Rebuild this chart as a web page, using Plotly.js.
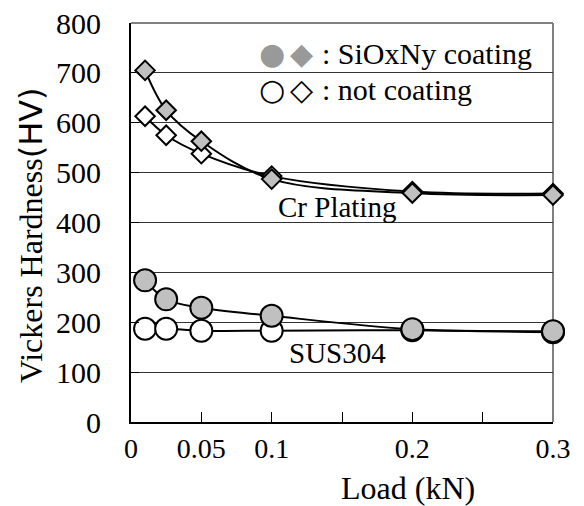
<!DOCTYPE html>
<html>
<head>
<meta charset="utf-8">
<script src="https://cdn.plot.ly/plotly-3.0.1.min.js"></script>
<style>html,body{margin:0;padding:0;background:#fff}#chart{width:584px;height:506px}</style>
</head>
<body>
<div id="chart"></div>
<script>
// Data
const loads = [0.01, 0.025, 0.05, 0.1, 0.2, 0.3];
const crCoated = [705, 625, 563, 487, 459, 455];
const crUncoated = [613, 575, 538, 493, 462, 458];
const susCoated = [284, 246, 229, 213, 186, 182];
const susUncoated = [187, 187, 183, 183, 184, 180];
const xTickVals = [0, 0.05, 0.1, 0.15, 0.2, 0.25, 0.3];
const xTickText = ['0', '0.05', '0.1', '', '0.2', '', '0.3'];
const yTickVals = [0, 100, 200, 300, 400, 500, 600, 700, 800];

const serif = 'Liberation Serif';

function tr(y, symbol, fill, size) {
  return {
    x: loads, y: y, type: 'scatter', mode: 'lines+markers', cliponaxis: false,
    line: {color: '#000', width: 2, shape: 'spline', smoothing: 1},
    marker: {symbol: symbol, color: fill, size: size, line: {color: '#000', width: 2}},
    showlegend: false, hoverinfo: 'skip'
  };
}

const data = [
  tr(crUncoated, 'diamond', '#ffffff', 15),
  tr(crCoated, 'diamond', '#c0c0c0', 15),
  tr(susUncoated, 'circle', '#ffffff', 22),
  tr(susCoated, 'circle', '#c0c0c0', 22)
];

const layout = {
  width: 584, height: 506,
  margin: {l: 131, r: 31, t: 23, b: 84},
  paper_bgcolor: '#fff', plot_bgcolor: '#fff',
  font: {family: serif, color: '#000', size: 28},
  xaxis: {
    range: [0, 0.3], tickvals: xTickVals, ticktext: xTickText,
    ticks: 'inside', ticklen: 10, tickwidth: 1, tickcolor: '#000',
    showgrid: false, zeroline: false, showline: true, linecolor: '#000', linewidth: 2,
    tickfont: {family: serif, size: 28, color: '#000'}, ticklabelstandoff: 0
  },
  yaxis: {
    range: [0, 800], tickvals: yTickVals,
    ticks: 'inside', ticklen: 8, tickwidth: 1, tickcolor: '#000',
    showgrid: true, gridcolor: '#333', gridwidth: 1,
    zeroline: false, showline: true, linecolor: '#000', linewidth: 2,
    tickfont: {family: serif, size: 30, color: '#000'}, ticklabelstandoff: 22
  },
  shapes: [
    {type: 'line', xref: 'paper', yref: 'paper', x0: 0, x1: 1, y0: 1, y1: 1, layer: 'below', line: {color: '#808080', width: 2}},
    {type: 'line', xref: 'paper', yref: 'paper', x0: 1, x1: 1, y0: 0, y1: 1, layer: 'below', line: {color: '#808080', width: 2}}
  ],
  annotations: [
    {text: 'Cr Plating', x: 0.1464, y: 431, xref: 'x', yref: 'y', showarrow: false, font: {family: serif, size: 29, color: '#000'}},
    {text: 'SUS304', x: 0.147, y: 138, xref: 'x', yref: 'y', showarrow: false, font: {family: serif, size: 29, color: '#000'}},
    {text: 'Load (kN)', x: 408, y: 488, xref: 'paper', yref: 'paper', showarrow: false, font: {family: serif, size: 32, color: '#000'}},
    {text: 'Vickers Hardness<span style="font-family:DejaVu Sans">(HV)</span>', x: 31, y: 235, textangle: -90, xref: 'paper', yref: 'paper', showarrow: false, font: {family: serif, size: 32, color: '#000'}},
    {text: ': SiOxNy coating', x: 320, y: 53, xref: 'paper', yref: 'paper', xanchor: 'left', showarrow: false, font: {family: serif, size: 30, color: '#000'}},
    {text: ': not coating', x: 320, y: 89, xref: 'paper', yref: 'paper', xanchor: 'left', showarrow: false, font: {family: serif, size: 30, color: '#000'}},
    {text: '●', x: 272, y: 53, xref: 'paper', yref: 'paper', showarrow: false, font: {family: 'DejaVu Sans', size: 30, color: '#999999'}},
    {text: '◆', x: 301, y: 53, xref: 'paper', yref: 'paper', showarrow: false, font: {family: 'DejaVu Sans', size: 30, color: '#999999'}},
    {text: '○', x: 272, y: 89, xref: 'paper', yref: 'paper', showarrow: false, font: {family: 'DejaVu Sans', size: 30, color: '#000'}},
    {text: '◇', x: 301, y: 89, xref: 'paper', yref: 'paper', showarrow: false, font: {family: 'DejaVu Sans', size: 30, color: '#000'}}
  ]
};

// convert pixel positions for paper-ref annotations to paper fractions
const pw = 584 - 131 - 31, ph = 506 - 23 - 84;
layout.annotations.forEach(a => {
  if (a.xref === 'paper') {
    a.x = (a.x - 131) / pw; a.y = 1 - (a.y - 23) / ph;
    if (!a.xanchor) a.xanchor = 'center';
    a.yanchor = 'middle';
  }
});

Plotly.newPlot('chart', data, layout, {displayModeBar: false, staticPlot: true});
</script>
</body>
</html>
